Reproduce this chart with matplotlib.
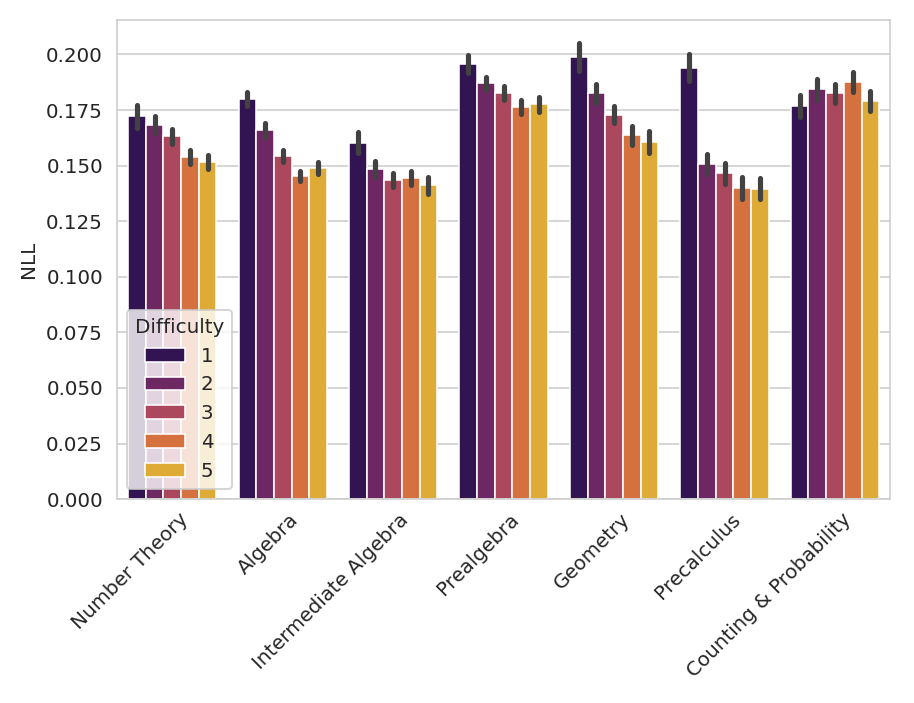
import numpy as np
import matplotlib
matplotlib.use("Agg")
import matplotlib.pyplot as plt
import matplotlib.transforms as mtransforms
import seaborn as sns

subjects = ["Number Theory", "Algebra", "Intermediate Algebra", "Prealgebra",
            "Geometry", "Precalculus", "Counting & Probability"]
difficulties = ["1", "2", "3", "4", "5"]

# mean NLL per subject, one list per difficulty level
nll_d1 = [0.1722, 0.1799, 0.1604, 0.1956, 0.1989, 0.1940, 0.1769]
nll_d2 = [0.1685, 0.1660, 0.1484, 0.1870, 0.1825, 0.1507, 0.1843]
nll_d3 = [0.1633, 0.1543, 0.1436, 0.1826, 0.1730, 0.1465, 0.1825]
nll_d4 = [0.1540, 0.1453, 0.1444, 0.1764, 0.1636, 0.1399, 0.1877]
nll_d5 = [0.1516, 0.1489, 0.1411, 0.1776, 0.1606, 0.1397, 0.1790]

# half width of the confidence interval
err_d1 = [0.0051, 0.0031, 0.0049, 0.0041, 0.0061, 0.0061, 0.0049]
err_d2 = [0.0037, 0.0030, 0.0035, 0.0031, 0.0043, 0.0045, 0.0046]
err_d3 = [0.0034, 0.0026, 0.0032, 0.0031, 0.0038, 0.0048, 0.0043]
err_d4 = [0.0032, 0.0024, 0.0032, 0.0031, 0.0041, 0.0048, 0.0045]
err_d5 = [0.0033, 0.0026, 0.0037, 0.0034, 0.0048, 0.0048, 0.0046]

means = [nll_d1, nll_d2, nll_d3, nll_d4, nll_d5]
errs = [err_d1, err_d2, err_d3, err_d4, err_d5]

sns.set_style("whitegrid")
colors = [sns.desaturate(c, 0.75) for c in sns.color_palette("inferno", 5)]

fig = plt.figure(figsize=(914 / 143, 703 / 143), dpi=143)
ax = fig.add_axes([0.128, 0.290, 0.846, 0.6815])

x = np.arange(len(subjects))
width = 0.8 / len(difficulties)
for i, (lvl, m, e) in enumerate(zip(difficulties, means, errs)):
    pos = x - 0.4 + width * (i + 0.5)
    ax.bar(pos, m, width=width, color=colors[i], edgecolor="white",
           linewidth=0.8, label=lvl, zorder=2)
    m = np.array(m)
    e = np.array(e)
    ax.vlines(pos, m - e, m + e, color=".26", linewidth=2.6, zorder=3,
              capstyle="round")

ax.set_xlim(-0.5, len(subjects) - 0.5)
ax.set_ylim(0, 0.2155)
ax.set_yticks(np.arange(0, 0.2001, 0.025))
ax.set_yticklabels([f"{t:.3f}" for t in np.arange(0, 0.2001, 0.025)])
ax.set_xticks(x)
ax.set_xticklabels(subjects, rotation=45, ha="right", rotation_mode="anchor")
# nudge the rotated labels a little right/up
shift = mtransforms.ScaledTranslation(6 / 143, 3 / 143, fig.dpi_scale_trans)
for lab in ax.get_xticklabels():
    lab.set_transform(lab.get_transform() + shift)
ax.grid(axis="x", visible=False)
ax.set_ylabel("NLL")
ax.legend(title="Difficulty", loc="lower left")

fig.savefig("out.png", dpi=143)
